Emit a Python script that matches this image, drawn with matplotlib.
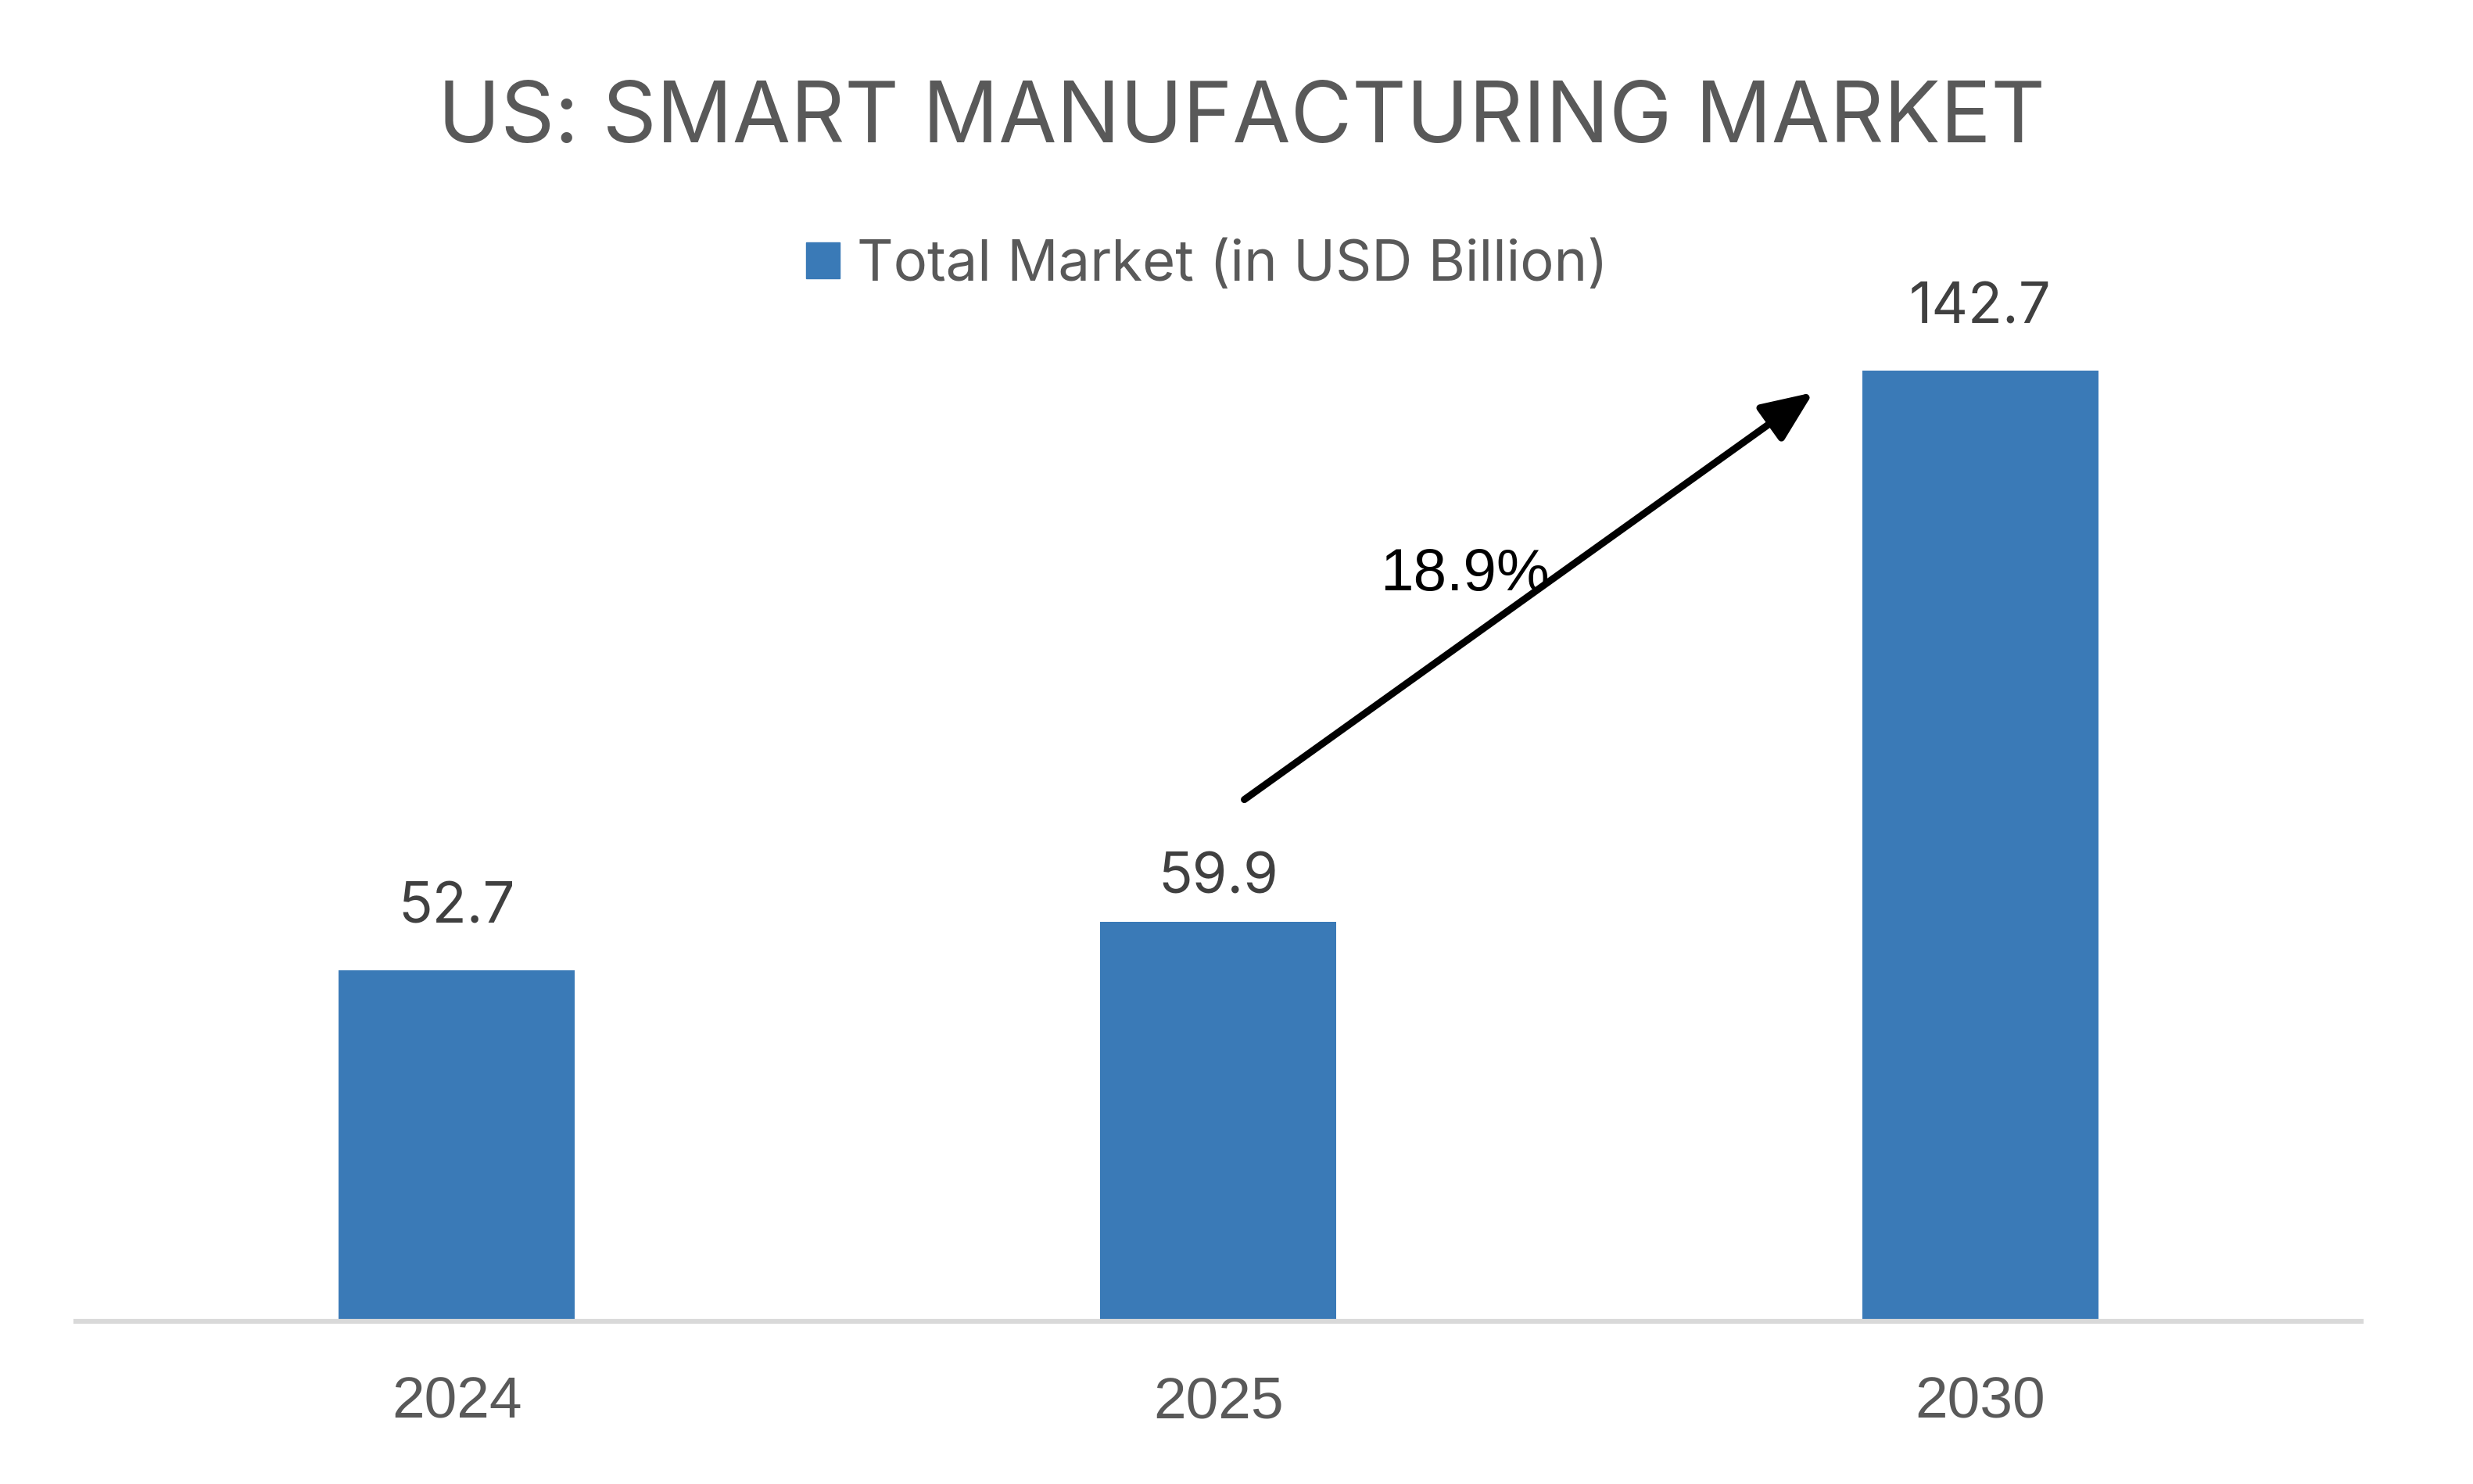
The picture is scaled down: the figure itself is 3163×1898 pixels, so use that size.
import matplotlib.pyplot as plt
from matplotlib.patches import Patch

# Data
years = ['2024', '2025', '2030']
market = [52.7, 59.9, 142.7]
series_name = 'Total Market (in USD Billion)'
cagr_label = '18.9%'

bar_color = '#3a7ab7'
grey = '#595959'

fig = plt.figure(figsize=(31.63, 18.98), dpi=100)
ax = fig.add_axes([0.0307, 0.1096, 0.924, 0.7324])

x = range(len(years))
bars = ax.bar(x, market, width=0.31, color=bar_color, zorder=2)

ax.set_xlim(-0.5, 2.5)
ax.set_ylim(0, 163.1)

# data labels (the 2025 one sits a bit closer to its bar in the original)
label_gap = [57, 40, 57]
for xi, v, g in zip(x, market, label_gap):
    ax.annotate(f'{v:.1f}', (xi, v), xytext=(0, g), textcoords='offset points',
                ha='center', va='center', fontsize=52, color='#404040', family='Inter')

ax.set_xticks(list(x))
ax.set_xticklabels(years, fontsize=54, color=grey, family='Liberation Sans')
ax.tick_params(axis='x', length=0, pad=50)
ax.set_yticks([])
for s in ['top', 'right', 'left']:
    ax.spines[s].set_visible(False)
ax.spines['bottom'].set_color('#d9d9d9')
ax.spines['bottom'].set_linewidth(4.5)

# CAGR arrow
ax.annotate('', xy=(1.781, 139.4), xytext=(1.034, 78.3),
            arrowprops=dict(arrowstyle='-|>,head_length=4.0,head_width=1.7',
                            color='black', lw=6.5, shrinkA=0, shrinkB=0))
ax.text(1.324, 112.0, cagr_label, ha='center', va='center', fontsize=55,
        color='black', family='Liberation Sans')

fig.text(0.502, 0.919, 'US: SMART MANUFACTURING MARKET', ha='center', va='center',
         fontsize=77.5, color=grey, family='Inter')

fig.legend(handles=[Patch(color=bar_color, label=series_name)], loc='center',
           bbox_to_anchor=(0.488, 0.821), frameon=False, handlelength=0.6,
           handleheight=0.6, handletextpad=0.3,
           prop={'family': 'Inter', 'size': 52}, labelcolor=grey)

fig.savefig('out.png', dpi=100)
